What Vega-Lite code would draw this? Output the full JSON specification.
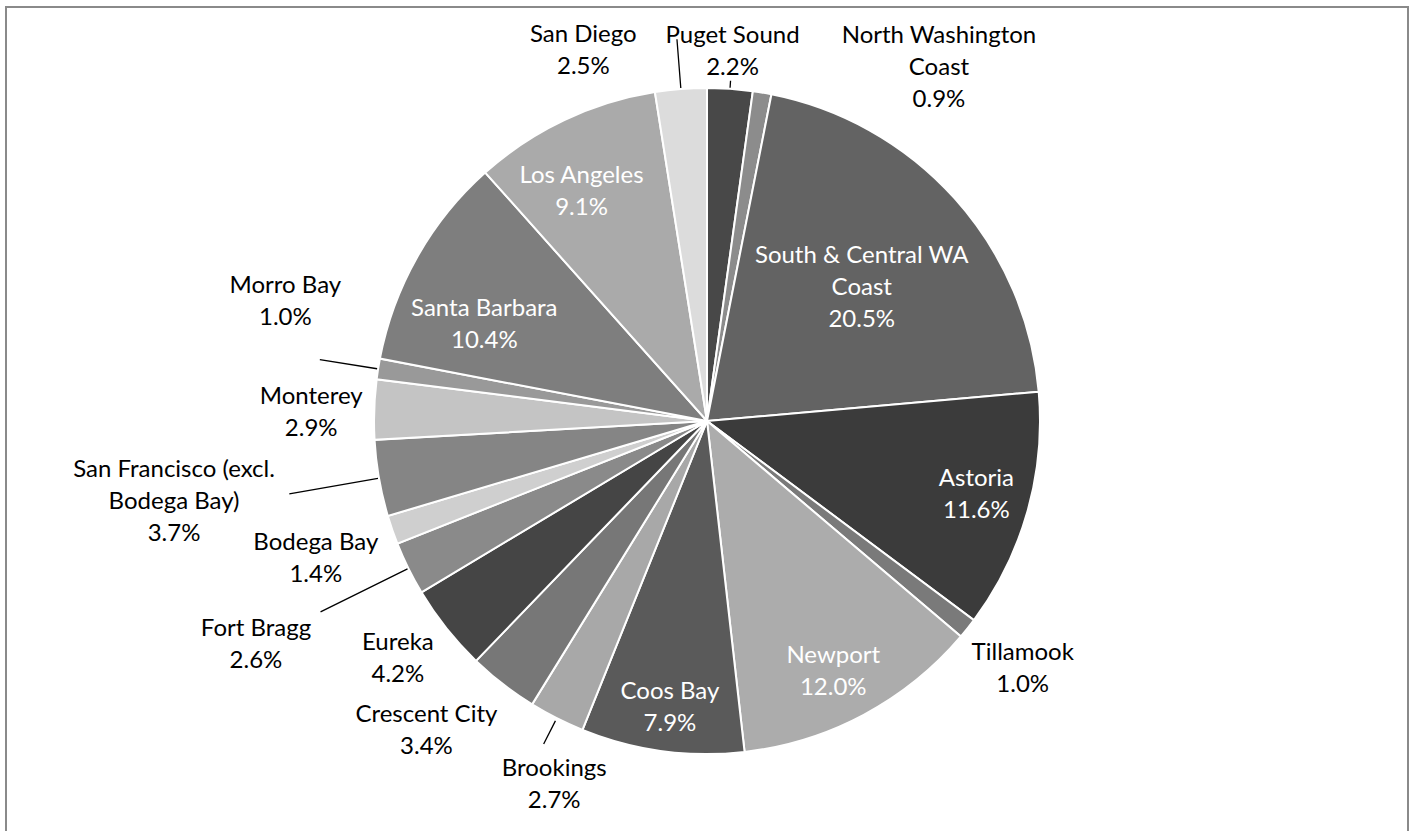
{
  "$schema": "https://vega.github.io/schema/vega-lite/v6.json",
  "width": 1402,
  "height": 828,
  "autosize": {"type": "none"},
  "padding": {"left": 6, "top": 7, "right": 1, "bottom": -4},
  "background": "white",
  "config": {
    "view": {"stroke": null},
    "text": {"font": "Lato", "fontSize": 24, "lineHeight": 32, "lineBreak": "\n", "align": "center", "baseline": "middle"}
  },
  "data": {
    "values": [
      {"order": 1, "name": "Puget Sound", "label": "Puget Sound", "value": 2.2},
      {"order": 2, "name": "North Washington Coast", "label": "North Washington\nCoast", "value": 0.9},
      {"order": 3, "name": "South & Central WA Coast", "label": "South & Central WA\nCoast", "value": 20.5},
      {"order": 4, "name": "Astoria", "label": "Astoria", "value": 11.6},
      {"order": 5, "name": "Tillamook", "label": "Tillamook", "value": 1.0},
      {"order": 6, "name": "Newport", "label": "Newport", "value": 12.0},
      {"order": 7, "name": "Coos Bay", "label": "Coos Bay", "value": 7.9},
      {"order": 8, "name": "Brookings", "label": "Brookings", "value": 2.7},
      {"order": 9, "name": "Crescent City", "label": "Crescent City", "value": 3.4},
      {"order": 10, "name": "Eureka", "label": "Eureka", "value": 4.2},
      {"order": 11, "name": "Fort Bragg", "label": "Fort Bragg", "value": 2.6},
      {"order": 12, "name": "Bodega Bay", "label": "Bodega Bay", "value": 1.4},
      {"order": 13, "name": "San Francisco (excl. Bodega Bay)", "label": "San Francisco (excl.\nBodega Bay)", "value": 3.7},
      {"order": 14, "name": "Monterey", "label": "Monterey", "value": 2.9},
      {"order": 15, "name": "Morro Bay", "label": "Morro Bay", "value": 1.0},
      {"order": 16, "name": "Santa Barbara", "label": "Santa Barbara", "value": 10.4},
      {"order": 17, "name": "Los Angeles", "label": "Los Angeles", "value": 9.1},
      {"order": 18, "name": "San Diego", "label": "San Diego", "value": 2.5}
    ]
  },
  "transform": [
    {"window": [{"op": "sum", "field": "value", "as": "cum"}], "sort": [{"field": "order"}], "frame": [null, 0]},
    {"calculate": "datum.cum - datum.value / 2", "as": "mid"},
    {"calculate": "datum.label + '\\n' + format(datum.value, '.1f') + '%'", "as": "txt"}
  ],
  "layer": [
    {
      "mark": {"type": "rect", "fillOpacity": 0, "stroke": "#8a8a8a", "strokeWidth": 2},
      "encoding": {}
    },
    {
      "mark": {"type": "arc", "outerRadius": 333, "stroke": "white", "strokeWidth": 2},
      "encoding": {
        "theta": {"field": "value", "type": "quantitative", "stack": true, "scale": {"domain": [0, 100]}},
        "order": {"field": "order", "type": "quantitative"},
        "color": {
          "field": "name", "type": "nominal", "legend": null,
          "scale": {
            "domain": ["Puget Sound", "North Washington Coast", "South & Central WA Coast", "Astoria", "Tillamook", "Newport", "Coos Bay", "Brookings", "Crescent City", "Eureka", "Fort Bragg", "Bodega Bay", "San Francisco (excl. Bodega Bay)", "Monterey", "Morro Bay", "Santa Barbara", "Los Angeles", "San Diego"],
            "range": ["#484848", "#8c8c8c", "#636363", "#3b3b3b", "#7a7a7a", "#acacac", "#5a5a5a", "#a8a8a8", "#777777", "#454545", "#8a8a8a", "#cfcfcf", "#858585", "#c4c4c4", "#999999", "#7e7e7e", "#aaaaaa", "#dcdcdc"]
          }
        }
      }
    },
    {"transform": [{"filter": "datum.name === 'Puget Sound'"}], "mark": {"type": "arc", "stroke": "black", "strokeWidth": 1.3, "fillOpacity": 0}, "encoding": {"theta": {"field": "mid", "type": "quantitative", "stack": null}, "theta2": {"field": "mid"}, "radius2": {"value": 334}, "radius": {"value": 341}}},
    {"transform": [{"filter": "datum.name === 'San Diego'"}], "mark": {"type": "arc", "stroke": "black", "strokeWidth": 1.3, "fillOpacity": 0}, "encoding": {"theta": {"field": "mid", "type": "quantitative", "stack": null}, "theta2": {"field": "mid"}, "radius2": {"value": 334}, "radius": {"value": 383}}},
    {"transform": [{"filter": "datum.name === 'Morro Bay'"}], "mark": {"type": "arc", "stroke": "black", "strokeWidth": 1.3, "fillOpacity": 0}, "encoding": {"theta": {"field": "mid", "type": "quantitative", "stack": null}, "theta2": {"field": "mid"}, "radius2": {"value": 334}, "radius": {"value": 392}}},
    {"transform": [{"filter": "datum.name === 'San Francisco (excl. Bodega Bay)'"}], "mark": {"type": "arc", "stroke": "black", "strokeWidth": 1.3, "fillOpacity": 0}, "encoding": {"theta": {"field": "mid", "type": "quantitative", "stack": null}, "theta2": {"field": "mid"}, "radius2": {"value": 334}, "radius": {"value": 424}}},
    {"transform": [{"filter": "datum.name === 'Fort Bragg'"}], "mark": {"type": "arc", "stroke": "black", "strokeWidth": 1.3, "fillOpacity": 0}, "encoding": {"theta": {"field": "mid", "type": "quantitative", "stack": null}, "theta2": {"field": "mid"}, "radius2": {"value": 334}, "radius": {"value": 431}}},
    {"transform": [{"filter": "datum.name === 'Brookings'"}], "mark": {"type": "arc", "stroke": "black", "strokeWidth": 1.3, "fillOpacity": 0}, "encoding": {"theta": {"field": "mid", "type": "quantitative", "stack": null}, "theta2": {"field": "mid"}, "radius2": {"value": 336}, "radius": {"value": 362}}},
    {"transform": [{"filter": "datum.name === 'Puget Sound'"}], "mark": {"type": "text", "color": "black", "dy": -16}, "encoding": {"theta": {"field": "mid", "type": "quantitative"}, "radius": {"value": 370}, "text": {"field": "txt"}}},
    {"transform": [{"filter": "datum.name === 'North Washington Coast'"}], "mark": {"type": "text", "color": "black", "dx": 168, "dy": -4}, "encoding": {"theta": {"field": "mid", "type": "quantitative"}, "radius": {"value": 386}, "text": {"field": "txt"}}},
    {"transform": [{"filter": "datum.name === 'South & Central WA Coast'"}], "mark": {"type": "text", "color": "white", "dx": 3, "dy": -29}, "encoding": {"theta": {"field": "mid", "type": "quantitative"}, "radius": {"value": 204}, "text": {"field": "txt"}}},
    {"transform": [{"filter": "datum.name === 'Astoria'"}], "mark": {"type": "text", "color": "white", "dy": -18}, "encoding": {"theta": {"field": "mid", "type": "quantitative"}, "radius": {"value": 280}, "text": {"field": "txt"}}},
    {"transform": [{"filter": "datum.name === 'Tillamook'"}], "mark": {"type": "text", "color": "black", "dx": 2, "dy": -18}, "encoding": {"theta": {"field": "mid", "type": "quantitative"}, "radius": {"value": 401}, "text": {"field": "txt"}}},
    {"transform": [{"filter": "datum.name === 'Newport'"}], "mark": {"type": "text", "color": "white", "dx": -6, "dy": -13}, "encoding": {"theta": {"field": "mid", "type": "quantitative"}, "radius": {"value": 281}, "text": {"field": "txt"}}},
    {"transform": [{"filter": "datum.name === 'Coos Bay'"}], "mark": {"type": "text", "color": "white", "dx": 2, "dy": -16}, "encoding": {"theta": {"field": "mid", "type": "quantitative"}, "radius": {"value": 290}, "text": {"field": "txt"}}},
    {"transform": [{"filter": "datum.name === 'Brookings'"}], "mark": {"type": "text", "color": "black", "dx": 25, "dy": -4}, "encoding": {"theta": {"field": "mid", "type": "quantitative"}, "radius": {"value": 394}, "text": {"field": "txt"}}},
    {"transform": [{"filter": "datum.name === 'Crescent City'"}], "mark": {"type": "text", "color": "black", "dx": -25, "dy": -35}, "encoding": {"theta": {"field": "mid", "type": "quantitative"}, "radius": {"value": 417}, "text": {"field": "txt"}}},
    {"transform": [{"filter": "datum.name === 'Eureka'"}], "mark": {"type": "text", "color": "black", "dx": -4, "dy": -21}, "encoding": {"theta": {"field": "mid", "type": "quantitative"}, "radius": {"value": 390}, "text": {"field": "txt"}}},
    {"transform": [{"filter": "datum.name === 'Fort Bragg'"}], "mark": {"type": "text", "color": "black", "dy": -15}, "encoding": {"theta": {"field": "mid", "type": "quantitative"}, "radius": {"value": 503}, "text": {"field": "txt"}}},
    {"transform": [{"filter": "datum.name === 'Bodega Bay'"}], "mark": {"type": "text", "color": "black", "dx": 1, "dy": -14}, "encoding": {"theta": {"field": "mid", "type": "quantitative"}, "radius": {"value": 415}, "text": {"field": "txt"}}},
    {"transform": [{"filter": "datum.name === 'San Francisco (excl. Bodega Bay)'"}], "mark": {"type": "text", "color": "black", "dx": -2, "dy": -44}, "encoding": {"theta": {"field": "mid", "type": "quantitative"}, "radius": {"value": 539}, "text": {"field": "txt"}}},
    {"transform": [{"filter": "datum.name === 'Monterey'"}], "mark": {"type": "text", "color": "black", "dy": -10}, "encoding": {"theta": {"field": "mid", "type": "quantitative"}, "radius": {"value": 396}, "text": {"field": "txt"}}},
    {"transform": [{"filter": "datum.name === 'Morro Bay'"}], "mark": {"type": "text", "color": "black", "dx": 8, "dy": -67}, "encoding": {"theta": {"field": "mid", "type": "quantitative"}, "radius": {"value": 435}, "text": {"field": "txt"}}},
    {"transform": [{"filter": "datum.name === 'Santa Barbara'"}], "mark": {"type": "text", "color": "white", "dx": -13, "dy": 7}, "encoding": {"theta": {"field": "mid", "type": "quantitative"}, "radius": {"value": 241}, "text": {"field": "txt"}}},
    {"transform": [{"filter": "datum.name === 'Los Angeles'"}], "mark": {"type": "text", "color": "white", "dx": -14, "dy": -10}, "encoding": {"theta": {"field": "mid", "type": "quantitative"}, "radius": {"value": 260}, "text": {"field": "txt"}}},
    {"transform": [{"filter": "datum.name === 'San Diego'"}], "mark": {"type": "text", "color": "black", "dx": -94, "dy": -9}, "encoding": {"theta": {"field": "mid", "type": "quantitative"}, "radius": {"value": 378}, "text": {"field": "txt"}}}
  ]
}
